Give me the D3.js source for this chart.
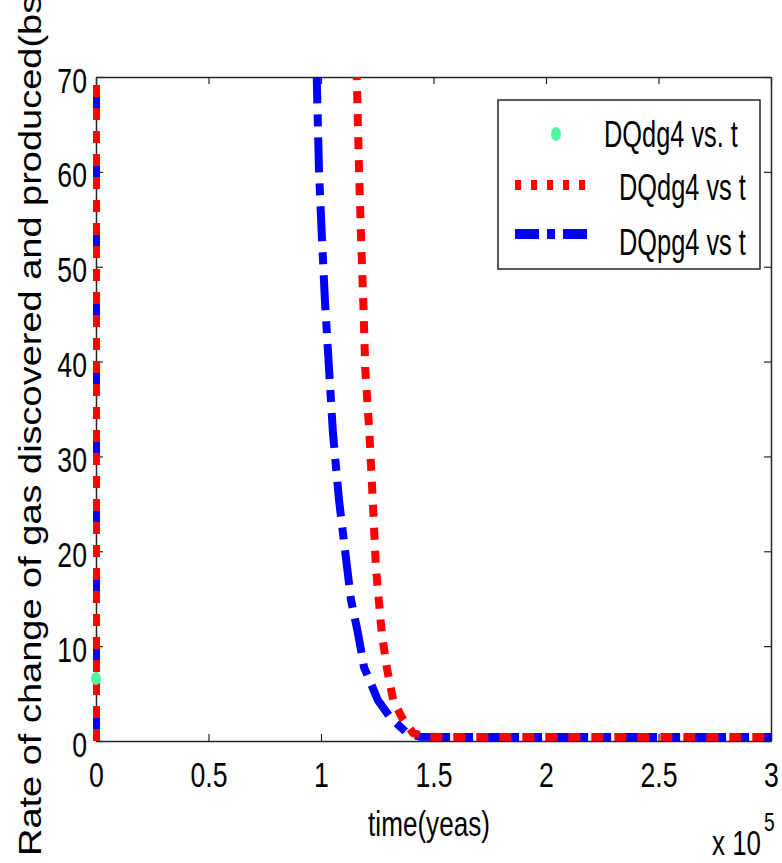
<!DOCTYPE html>
<html>
<head>
<meta charset="utf-8">
<script src="https://cdn.jsdelivr.net/npm/d3@7"></script>
<style>
  html, body { margin: 0; padding: 0; background: #fff; }
  svg { display: block; }
</style>
</head>
<body>
<svg id="chart" width="782" height="863"></svg>
<script>
// Time in years; rates of change of gas discovered (DQdg4) and produced (DQpg4).
// The value at t = 0 shoots far above the plotted range and is clipped by the axes.
const timeProduced = [0, 0, 98100, 99100, 100400, 101800, 103600, 105300, 108000, 111600,
  113300, 116400, 119100, 125300, 130700, 138200, 144000, 160000, 200000, 250000, 300000];
const rateProduced = [0, 5000, 70, 60.2, 53.1, 46.2, 39.1, 32.5, 25.4, 18.3,
  14.9, 11.4, 7.8, 4.3, 2.5, 0.84, 0.45, 0.42, 0.42, 0.42, 0.42];

const timeDiscovered = [0, 0, 115900, 116900, 117800, 118800, 119700, 121500, 123000, 124400,
  127000, 129200, 132100, 135900, 140900, 147000, 156000, 200000, 250000, 300000];
const rateDiscovered = [0, 5000, 70, 60.2, 53.1, 46.2, 39.1, 32.5, 25.4, 18.3,
  11.4, 7.8, 4.3, 2.5, 0.84, 0.45, 0.42, 0.42, 0.42, 0.42];

// Single marker series
const timeMarker = [0];
const rateMarker = [6.6];

const xTicks = [0, 50000, 100000, 150000, 200000, 250000, 300000];
const xTickLabels = ["0", "0.5", "1", "1.5", "2", "2.5", "3"];
const yTicks = [0, 10, 20, 30, 40, 50, 60, 70];
const yTickLabels = ["0", "10", "20", "30", "40", "50", "60", "70"];

const legendLabels = ["DQdg4 vs. t", "DQdg4 vs t", "DQpg4 vs t"];

const FONT = "'Liberation Sans', Arial, sans-serif";
const AXIS_COLOR = "#262626";
const GREEN = "rgb(80,245,160)";

const svg = d3.select("#chart");

const x = d3.scaleLinear().domain([0, 300000]).range([96, 771]);
const y = d3.scaleLinear().domain([0, 70]).range([741, 77]);

// Clip region for the data lines
svg.append("defs").append("clipPath").attr("id", "plotClip")
  .append("rect")
  .attr("x", x(0) - 3).attr("y", y(70))
  .attr("width", x(300000) - x(0) + 6).attr("height", y(0) - y(70));

function styleAxis(g) {
  g.attr("font-family", FONT).attr("font-size", 36);
  g.selectAll(".domain").attr("stroke", AXIS_COLOR).attr("stroke-width", 1.5);
  g.selectAll(".tick line").attr("stroke", AXIS_COLOR).attr("stroke-width", 1.2);
  g.selectAll(".tick text").attr("fill", "#000");
}

// Bottom axis with labels
const gx = svg.append("g").attr("transform", `translate(0,${y(0)})`)
  .call(d3.axisBottom(x).tickValues(xTicks)
    .tickFormat((d, i) => xTickLabels[i]).tickSizeInner(-7).tickSizeOuter(0));
styleAxis(gx);
gx.selectAll(".tick text").attr("y", null).attr("dy", null)
  .attr("transform", "translate(0,46) scale(0.74,1)");

// Top axis, ticks only
const gxTop = svg.append("g").attr("transform", `translate(0,${y(70)})`)
  .call(d3.axisTop(x).tickValues(xTicks).tickFormat("").tickSizeInner(-7).tickSizeOuter(0));
styleAxis(gxTop);

// Left axis with labels
const gy = svg.append("g").attr("transform", `translate(${x(0)},0)`)
  .call(d3.axisLeft(y).tickValues(yTicks)
    .tickFormat((d, i) => yTickLabels[i]).tickSizeInner(-7).tickSizeOuter(0));
styleAxis(gy);
gy.selectAll(".tick text").attr("x", null).attr("dy", null)
  .attr("transform", "translate(-9,15) scale(0.74,1)");

// Right axis, ticks only
const gyRight = svg.append("g").attr("transform", `translate(${x(300000)},0)`)
  .call(d3.axisRight(y).tickValues(yTicks).tickFormat("").tickSizeInner(-7).tickSizeOuter(0));
styleAxis(gyRight);

// Data lines
const line = d3.line().x(d => x(d[0])).y(d => y(d[1]));
const plot = svg.append("g").attr("clip-path", "url(#plotClip)");

plot.append("path")
  .datum(d3.zip(timeProduced, rateProduced))
  .attr("d", line)
  .attr("fill", "none")
  .attr("stroke", "#0000ff")
  .attr("stroke-width", 8)
  .attr("stroke-dasharray", "35,11,12,11");

plot.append("path")
  .datum(d3.zip(timeDiscovered, rateDiscovered))
  .attr("d", line)
  .attr("fill", "none")
  .attr("stroke", "#ff0000")
  .attr("stroke-width", 8)
  .attr("stroke-dasharray", "12,11");

svg.append("g").selectAll("ellipse")
  .data(d3.zip(timeMarker, rateMarker))
  .join("ellipse")
  .attr("cx", d => x(d[0])).attr("cy", d => y(d[1]))
  .attr("rx", 5).attr("ry", 6.5)
  .attr("fill", GREEN);

// Axis titles
svg.append("text")
  .attr("transform", "translate(429,836) scale(0.725,1)")
  .attr("text-anchor", "middle")
  .attr("font-family", FONT).attr("font-size", 36)
  .text("time(yeas)");

svg.append("text")
  .attr("transform", "translate(712,855) scale(0.74,1)")
  .attr("font-family", FONT).attr("font-size", 35)
  .text("x 10");
svg.append("text")
  .attr("transform", "translate(764,831) scale(0.74,1)")
  .attr("font-family", FONT).attr("font-size", 26)
  .text("5");

svg.append("text")
  .attr("transform", "translate(41,856) rotate(-90) scale(1.225,1)")
  .attr("font-family", FONT).attr("font-size", 31)
  .text("Rate of change of gas discovered and produced(bs");

// Legend
const legend = svg.append("g");
legend.append("rect")
  .attr("x", 498).attr("y", 100).attr("width", 262).attr("height", 169)
  .attr("fill", "#fff").attr("stroke", AXIS_COLOR).attr("stroke-width", 1.5);

legend.append("ellipse")
  .attr("cx", 556).attr("cy", 134).attr("rx", 5).attr("ry", 7)
  .attr("fill", GREEN);
legend.append("line")
  .attr("x1", 515).attr("x2", 595).attr("y1", 185).attr("y2", 185)
  .attr("stroke", "#ff0000").attr("stroke-width", 10).attr("stroke-dasharray", "6,10");
legend.append("line")
  .attr("x1", 515).attr("x2", 595).attr("y1", 234).attr("y2", 234)
  .attr("stroke", "#0000ff").attr("stroke-width", 10).attr("stroke-dasharray", "24,8,8,8");

const legendTextPos = [[604, 147], [619, 200], [619, 255]];
legend.selectAll("text.lbl")
  .data(legendLabels)
  .join("text")
  .attr("class", "lbl")
  .attr("transform", (d, i) => `translate(${legendTextPos[i][0]},${legendTextPos[i][1]}) scale(0.705,1)`)
  .attr("font-family", FONT).attr("font-size", 36)
  .text(d => d);
</script>
</body>
</html>
